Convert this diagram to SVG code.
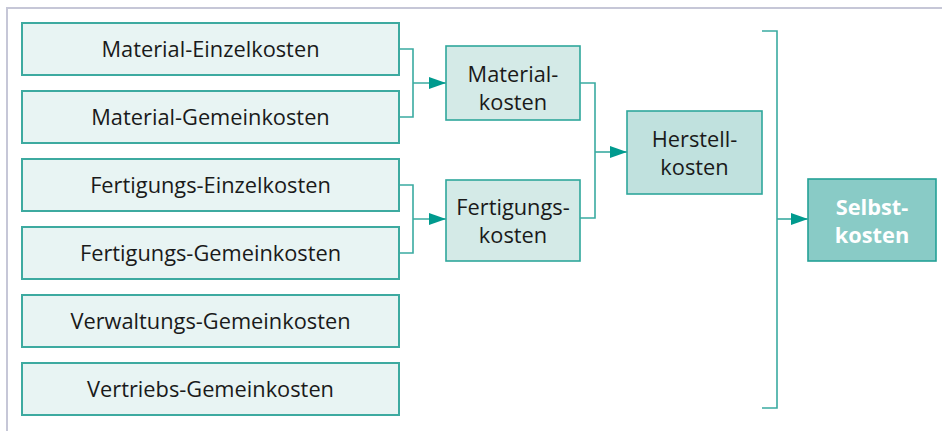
<svg xmlns="http://www.w3.org/2000/svg" width="942" height="431" viewBox="0 0 942 431">
<defs>
<style>
.frame{fill:none;stroke:#c6c7d7;stroke-width:2}
.src rect{fill:#e8f4f3;stroke:#3daaa0;stroke-width:2}
.mid rect{fill:#d4eae7;stroke:#2fa79c;stroke-width:1.6}
.hk rect{fill:#c0e1de;stroke:#2fa79c;stroke-width:1.6}
.sk rect{fill:#89cbc6;stroke:#23a196;stroke-width:1.6}
text{font-family:"Open Sans","Noto Sans","DejaVu Sans",sans-serif;font-size:21.8px;fill:#1a1a1a;text-anchor:middle}
.sk text{fill:#ffffff;font-weight:bold}
.conn path{fill:none;stroke:#3aaba1;stroke-width:1.6}
</style>
<marker id="arr" markerUnits="userSpaceOnUse" markerWidth="18" markerHeight="14" refX="17" refY="7" orient="auto">
<path d="M0,1 L17,7 L0,13 z" fill="#009a8e"/>
</marker>
</defs>
<rect width="942" height="431" fill="#ffffff"/>
<path class="frame" d="M7,431 V8 H942"/>
<g id="material-einzelkosten" class="src"><rect x="22" y="23" width="377" height="52"/><text x="210.5" y="57">Material-Einzelkosten</text></g>
<g id="material-gemeinkosten" class="src"><rect x="22" y="91" width="377" height="52"/><text x="210.5" y="125">Material-Gemeinkosten</text></g>
<g id="fertigungs-einzelkosten" class="src"><rect x="22" y="159" width="377" height="52"/><text x="210.5" y="193">Fertigungs-Einzelkosten</text></g>
<g id="fertigungs-gemeinkosten" class="src"><rect x="22" y="227" width="377" height="52"/><text x="210.5" y="261">Fertigungs-Gemeinkosten</text></g>
<g id="verwaltungs-gemeinkosten" class="src"><rect x="22" y="295" width="377" height="52"/><text x="210.5" y="329">Verwaltungs-Gemeinkosten</text></g>
<g id="vertriebs-gemeinkosten" class="src"><rect x="22" y="363" width="377" height="52"/><text x="210.5" y="397">Vertriebs-Gemeinkosten</text></g>
<g id="materialkosten" class="mid"><rect x="446" y="46" width="134" height="74"/><text x="513" y="82">Material-</text><text x="513" y="110">kosten</text></g>
<g id="fertigungskosten" class="mid"><rect x="446" y="180" width="134" height="81"/><text x="513" y="215">Fertigungs-</text><text x="513" y="243">kosten</text></g>
<g id="herstellkosten" class="hk"><rect x="627" y="111" width="135" height="83"/><text x="694.5" y="147">Herstell-</text><text x="694.5" y="175">kosten</text></g>
<g id="selbstkosten" class="sk"><rect x="808" y="179" width="128" height="82"/><text x="872" y="215">Selbst-</text><text x="872" y="243">kosten</text></g>
<g id="connectors" class="conn">
<path d="M399,49 H413 V117 H399"/>
<path d="M413,83 H446" marker-end="url(#arr)"/>
<path d="M399,185 H413 V253 H399"/>
<path d="M413,219 H446" marker-end="url(#arr)"/>
<path d="M580,83 H595 V218 H580"/>
<path d="M595,152 H627" marker-end="url(#arr)"/>
<path d="M762,31 H777 V408 H762"/>
<path d="M777,219 H808" marker-end="url(#arr)"/>
</g>
</svg>
